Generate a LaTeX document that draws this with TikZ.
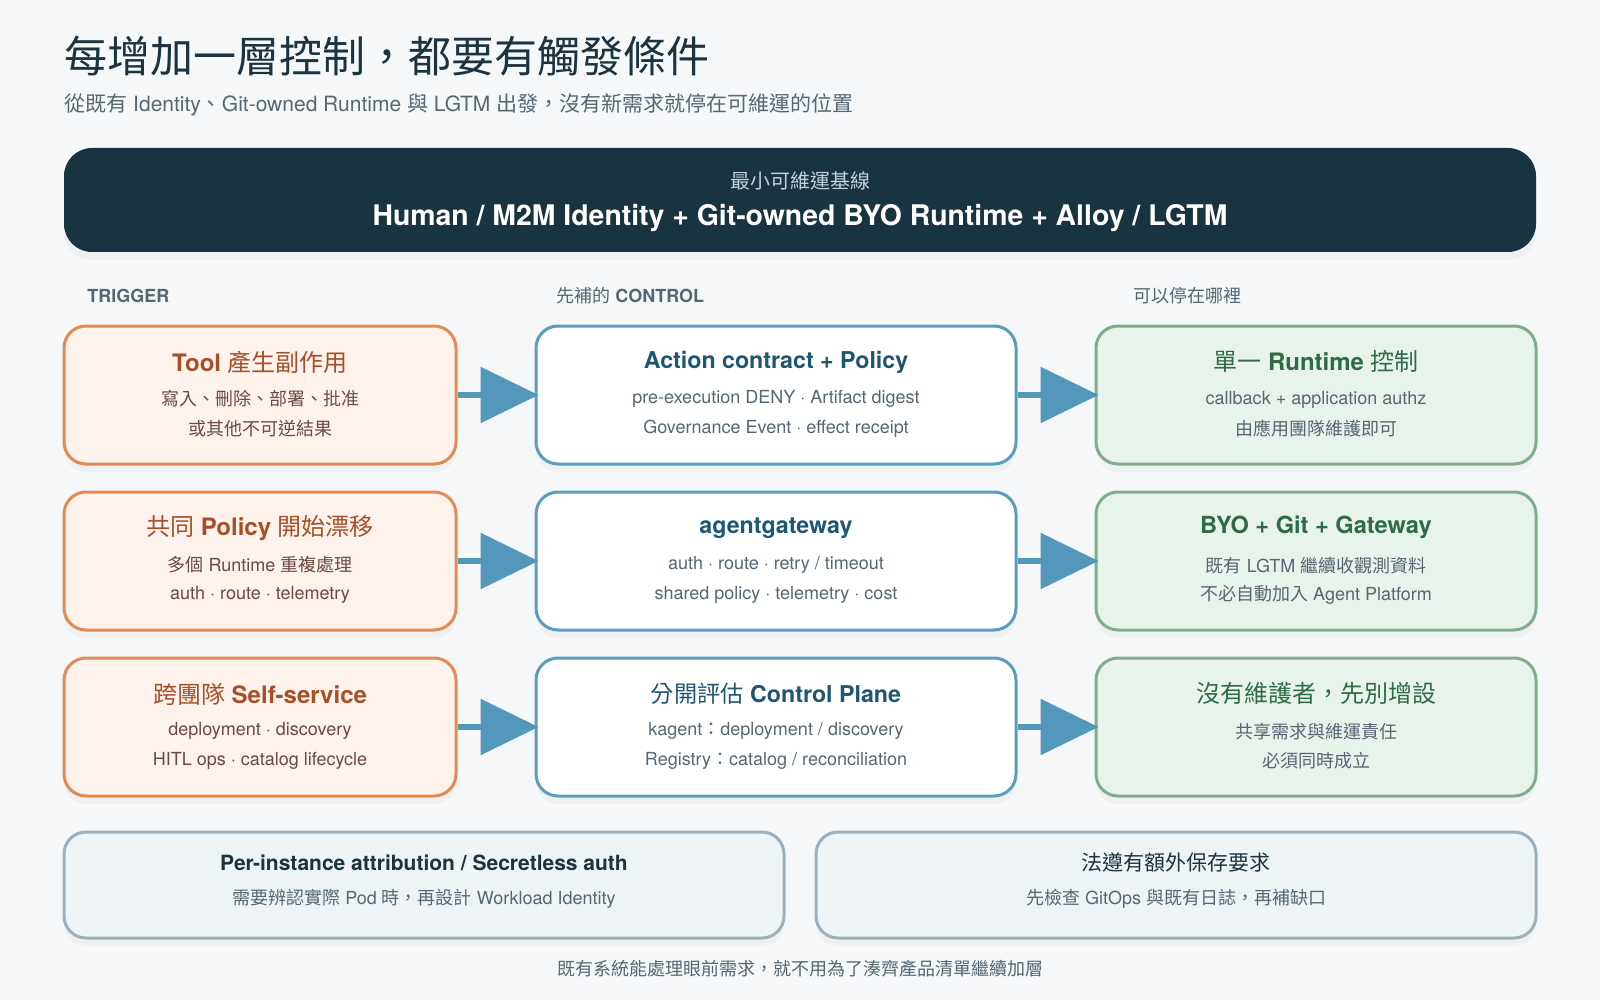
\documentclass[tikz,border=0pt]{standalone}
\usepackage{fontspec}
\setmainfont{TeX Gyre Heros}
\newfontfamily\cjkfont[BoldFont={Noto Sans CJK TC}]{Noto Sans CJK TC}
\usetikzlibrary{arrows.meta,calc,shadows}

% Changer de police pour les caractères CJK
\XeTeXinterchartokenstate=1
\newXeTeXintercharclass\zhcls
\newcount\zhc
\zhc="3000
\loop
  \XeTeXcharclass\zhc=\zhcls
  \advance\zhc by 1
\ifnum\zhc<"A000 \repeat
\zhc="FF00
\loop
  \XeTeXcharclass\zhc=\zhcls
  \advance\zhc by 1
\ifnum\zhc<"FFF0 \repeat
\XeTeXinterchartoks 0 \zhcls = {\cjkfont}
\XeTeXinterchartoks 4095 \zhcls = {\cjkfont}
\XeTeXinterchartoks \zhcls 0 = {\rmfamily}
\XeTeXinterchartoks \zhcls 4095 = {\rmfamily}

% Couleurs
\definecolor{bgpage}{HTML}{F5F7F9}
\definecolor{ink}{HTML}{1C3340}
\definecolor{slate}{HTML}{566773}
\definecolor{navy}{HTML}{183440}
\definecolor{navytxt}{HTML}{C3D1D9}
\definecolor{orgline}{HTML}{E38B52}
\definecolor{orgfill}{HTML}{FDF2EC}
\definecolor{orgtitle}{HTML}{A6502A}
\definecolor{orgtext}{HTML}{6B4B40}
\definecolor{bluline}{HTML}{5A9DC1}
\definecolor{blutitle}{HTML}{1F5674}
\definecolor{grnline}{HTML}{80AE8C}
\definecolor{grnfill}{HTML}{E8F3EC}
\definecolor{grntitle}{HTML}{2F6B46}
\definecolor{arrowblue}{HTML}{5398BB}
\definecolor{notefill}{HTML}{EEF3F6}
\definecolor{noteline}{HTML}{9DB1BD}

\begin{document}
\begin{tikzpicture}[
    x=0.5pt, y=-0.5pt,
    box/.style={rounded corners=11pt, line width=1.5pt, inner sep=0pt,
        drop shadow={shadow xshift=0pt, shadow yshift=-4pt, opacity=0.06}},
    trig/.style={box, draw=orgline, fill=orgfill, minimum width=196pt, minimum height=69pt},
    ctrl/.style={box, draw=bluline, fill=white, minimum width=240pt, minimum height=69pt},
    stop/.style={box, draw=grnline, fill=grnfill, minimum width=220pt, minimum height=69pt},
    note/.style={box, draw=noteline, fill=notefill, minimum width=360pt, minimum height=53pt},
    head/.style={font=\fontsize{12pt}{14pt}\selectfont\bfseries},
    body/.style={font=\fontsize{9pt}{11pt}\selectfont},
    colhead/.style={anchor=west, inner sep=0pt, text=slate, font=\fontsize{9pt}{11pt}\selectfont},
    flow/.style={line width=3pt, draw=arrowblue, shorten >=-2pt,
        -{Triangle[length=29pt, width=27.5pt]}}
]

% Fond
\fill[bgpage] (0,0) rectangle (1600,1000);
\useasboundingbox (0,0) rectangle (1600,1000);

% Titre
\node[anchor=west, text=ink, font=\fontsize{21.5pt}{26pt}\selectfont, inner sep=0pt] (title) at (64,56) {每增加一層控制，都要有觸發條件};
\node[anchor=west, text=slate, font=\fontsize{10.5pt}{12pt}\selectfont, inner sep=0pt] (subtitle) at (64,105) {從既有 Identity、Git-owned Runtime 與 LGTM 出發，沒有新需求就停在可維運的位置};

% Bandeau de base
\node[box, draw=none, fill=navy, rounded corners=14pt, minimum width=736pt, minimum height=52pt] (base) at (800,200) {};
\node[text=navytxt, font=\fontsize{10pt}{12pt}\selectfont] at (800,181) {最小可維運基線};
\node[text=white, font=\fontsize{14.2pt}{16pt}\selectfont\bfseries] at (800,218) {Human / M2M Identity + Git-owned BYO Runtime + Alloy / LGTM};

% En-têtes de colonnes
\node[colhead] (h1) at (87,296) {\textbf{TRIGGER}};
\node[colhead] (h2) at (556,296) {先補的 \textbf{CONTROL}};
\node[colhead] (h3) at (1133,296) {可以停在哪裡};

% Boîtes
\node[trig] (t1) at (260,395) {};
\node[trig] (t2) at (260,561) {};
\node[trig] (t3) at (260,727) {};
\node[ctrl] (c1) at (776,395) {};
\node[ctrl] (c2) at (776,561) {};
\node[ctrl] (c3) at (776,727) {};
\node[stop] (s1) at (1316,395) {};
\node[stop] (s2) at (1316,561) {};
\node[stop] (s3) at (1316,727) {};

% Flèches
\draw[flow] (t1) -- (c1);
\draw[flow] (c1) -- (s1);
\draw[flow] (t2) -- (c2);
\draw[flow] (c2) -- (s2);
\draw[flow] (t3) -- (c3);
\draw[flow] (c3) -- (s3);

% Textes TRIGGER
\node[head, text=orgtitle] at ($(t1)+(0,-33)$) {Tool 產生副作用};
\node[body, text=orgtext] at ($(t1)+(0,4)$) {寫入、刪除、部署、批准};
\node[body, text=orgtext] at ($(t1)+(0,34)$) {或其他不可逆結果};
\node[head, text=orgtitle] at ($(t2)+(0,-33)$) {共同 Policy 開始漂移};
\node[body, text=orgtext] at ($(t2)+(0,4)$) {多個 Runtime 重複處理};
\node[body, text=orgtext] at ($(t2)+(0,34)$) {auth · route · telemetry};
\node[head, text=orgtitle] at ($(t3)+(0,-33)$) {跨團隊 Self-service};
\node[body, text=orgtext] at ($(t3)+(0,4)$) {deployment · discovery};
\node[body, text=orgtext] at ($(t3)+(0,34)$) {HITL ops · catalog lifecycle};

% Textes CONTROL
\node[head, text=blutitle, font=\fontsize{11.6pt}{14pt}\selectfont\bfseries] at ($(c1)+(0,-33)$) {Action contract + Policy};
\node[body, text=slate] at ($(c1)+(0,4)$) {pre-execution DENY · Artifact digest};
\node[body, text=slate] at ($(c1)+(0,34)$) {Governance Event · effect receipt};
\node[head, text=blutitle, font=\fontsize{11.6pt}{14pt}\selectfont\bfseries] at ($(c2)+(0,-33)$) {agentgateway};
\node[body, text=slate] at ($(c2)+(0,4)$) {auth · route · retry / timeout};
\node[body, text=slate] at ($(c2)+(0,34)$) {shared policy · telemetry · cost};
\node[head, text=blutitle, font=\fontsize{11.6pt}{14pt}\selectfont\bfseries] at ($(c3)+(0,-33)$) {分開評估 Control Plane};
\node[body, text=slate] at ($(c3)+(0,4)$) {kagent：deployment / discovery};
\node[body, text=slate] at ($(c3)+(0,34)$) {Registry：catalog / reconciliation};

% Textes STOP
\node[head, text=grntitle] at ($(s1)+(0,-34)$) {單一 Runtime 控制};
\node[body, text=slate] at ($(s1)+(0,5)$) {callback + application authz};
\node[body, text=slate] at ($(s1)+(0,34)$) {由應用團隊維護即可};
\node[head, text=grntitle, font=\fontsize{11.8pt}{14pt}\selectfont\bfseries] at ($(s2)+(0,-34)$) {BYO + Git + Gateway};
\node[body, text=slate] at ($(s2)+(0,5)$) {既有 LGTM 繼續收觀測資料};
\node[body, text=slate] at ($(s2)+(0,34)$) {不必自動加入 Agent Platform};
\node[head, text=grntitle] at ($(s3)+(0,-34)$) {沒有維護者，先別增設};
\node[body, text=slate] at ($(s3)+(0,5)$) {共享需求與維運責任};
\node[body, text=slate] at ($(s3)+(0,34)$) {必須同時成立};

% Notes du bas
\node[note] (n1) at (424,885) {};
\node[note] (n2) at (1176,885) {};
\node[text=ink, font=\fontsize{10.5pt}{12pt}\selectfont\bfseries] at ($(n1)+(0,-22)$) {Per-instance attribution / Secretless auth};
\node[body, text=slate] at ($(n1)+(0,14)$) {需要辨認實際 Pod 時，再設計 Workload Identity};
\node[text=ink, font=\fontsize{10.5pt}{12pt}\selectfont\bfseries] at ($(n2)+(0,-22)$) {法遵有額外保存要求};
\node[body, text=slate] at ($(n2)+(0,14)$) {先檢查 GitOps 與既有日誌，再補缺口};

% Conclusion
\node[body, text=slate] (footer) at (800,969) {既有系統能處理眼前需求，就不用為了湊齊產品清單繼續加層};

\end{tikzpicture}
\end{document}
